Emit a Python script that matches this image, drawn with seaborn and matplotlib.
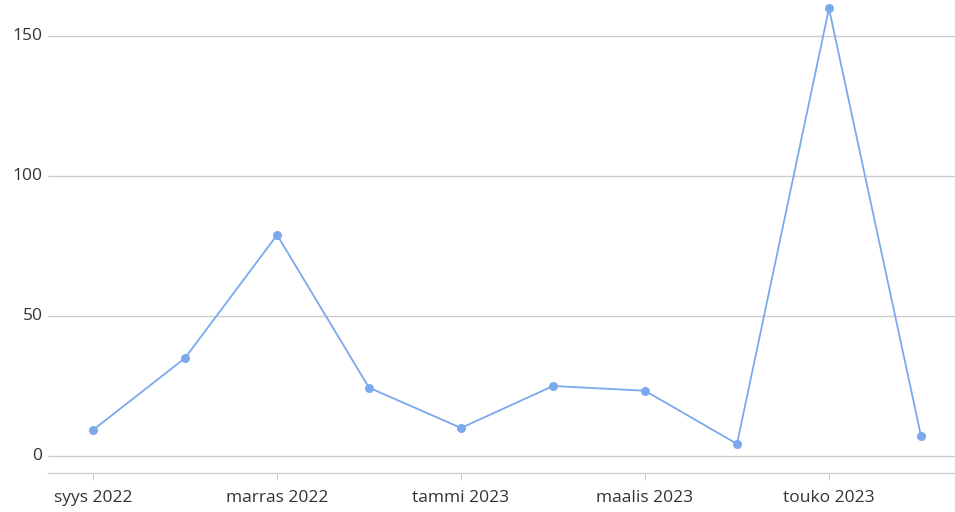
import matplotlib
matplotlib.use("Agg")
import matplotlib.pyplot as plt
import numpy as np
import pandas as pd
import seaborn as sns

# monthly values, syys 2022 .. kesä 2023
months = ["syys 2022", "loka 2022", "marras 2022", "joulu 2022", "tammi 2023",
          "helmi 2023", "maalis 2023", "huhti 2023", "touko 2023", "kesä 2023"]
values = [9.3, 35, 79, 24.4, 10, 25, 23.3, 4.3, 160, 7.2]

df = pd.DataFrame({"idx": np.arange(len(months)), "value": values})

sns.set_style("white")
plt.rcParams['font.family'] = ['Open Sans', 'DejaVu Sans']

fig = plt.figure(figsize=(9.55, 5.12), dpi=100)
ax = fig.add_axes([48 / 955, 39 / 512, 1 - 48 / 955, 1 - 39 / 512])

line_color = "#7aa9ec"
sns.lineplot(data=df, x="idx", y="value", ax=ax, color=line_color, linewidth=1.3,
             marker="o", markersize=6.5, markeredgewidth=0, zorder=3)

ax.set_xlim(-0.49, 9.37)
ax.set_ylim(-6.1, 163)
ax.set_yticks([0, 50, 100, 150])
ax.set_yticklabels(["0", "50", "100", "150"])
ax.yaxis.grid(True, color="#cccccc", linewidth=1)
ax.set_axisbelow(True)

tick_pos = np.arange(0, len(months), 2)
ax.set_xticks(tick_pos)
ax.set_xticklabels([months[i] for i in tick_pos])

ax.set_xlabel("")
ax.set_ylabel("")
for s in ["top", "right", "left"]:
    ax.spines[s].set_visible(False)
ax.spines["bottom"].set_color("#cccccc")
ax.spines["bottom"].set_linewidth(1)

ax.tick_params(axis="x", length=5, color="#cccccc", labelsize=12.5,
               labelcolor="#333333", pad=7, bottom=True)
ax.tick_params(axis="y", length=0, labelsize=12.5, labelcolor="#333333", pad=4)
for lbl in ax.get_yticklabels():
    lbl.set_verticalalignment("center")

fig.savefig("out.png", dpi=100)
